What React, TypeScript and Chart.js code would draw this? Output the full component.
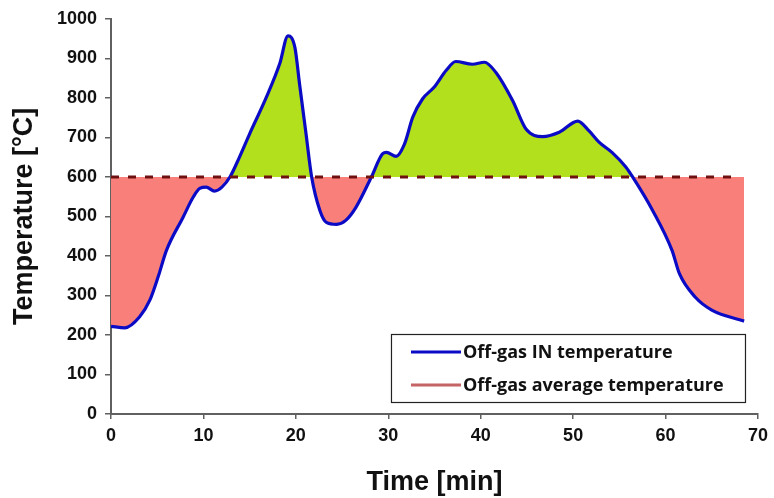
import React, { useEffect, useRef } from "react";
import { Chart, registerables } from "chart.js";

Chart.register(...registerables);

// ---- data ----
const timeMin = [
  0, 1.5, 3.1, 4.2, 5.1, 6.0, 7.8, 8.9, 9.6, 10.3, 11.2, 12.0, 12.9, 13.9, 15.0,
  16.8, 18.25, 19.15, 19.9, 20.4, 21.1, 21.7, 22.6, 23.3, 24.4, 25.4, 26.5, 28.2,
  29.4, 29.8, 30.85, 31.75, 32.65, 33.7, 35.0, 36.25, 37.3, 39.1, 40.4, 41.65,
  43.45, 44.9, 46.7, 48.5, 50.5, 51.7, 52.8, 54.2, 55.7, 56.4, 58.6, 60.7, 61.5,
  63.2, 65.0, 68.5,
];
const tempIn = [
  222, 218, 246, 288, 347, 414, 498, 549, 571, 574, 564, 574, 601, 650, 709,
  801, 886, 957, 927, 835, 709, 601, 515, 485, 480, 490, 523, 601,
  659, 662, 652, 683, 751, 797, 828, 869, 892, 885, 890, 864,
  793, 721, 702, 713, 741, 717, 688, 662, 625, 601, 515, 414, 355,
  296, 263, 235,
];
const avgTime = [0, 67.6];
const avgTemp = [600, 600];

const seriesLabels = ["Off-gas IN temperature", "Off-gas average temperature"];
const xAxisTitle = "Time [min]";
const yAxisTitle = "Temperature [°C]";

const BLUE = "#0b0bc6";
const AVG_DASH = "#6e1010";
const AVG_LEGEND = "#c46464";
const RED_FILL = "#f9807a";
const GREEN_FILL = "#b3e01c";
const AXIS = "#606060";

const boxLegend = {
  id: "boxLegend",
  afterDraw(chart: any) {
    const ctx = chart.ctx as CanvasRenderingContext2D;
    const area = chart.chartArea;
    const w = 354;
    const h = 68;
    const x0 = area.right - 13 - w;
    const y0 = area.bottom - 12 - h;
    ctx.save();
    ctx.fillStyle = "#ffffff";
    ctx.fillRect(x0, y0, w, h);
    ctx.strokeStyle = "#222222";
    ctx.lineWidth = 1.2;
    ctx.strokeRect(x0 + 0.5, y0 + 0.5, w, h);
    const colors = [BLUE, AVG_LEGEND];
    const rows = [y0 + 18, y0 + 51];
    ctx.font = "bold 18px 'Open Sans', 'Noto Sans', sans-serif";
    ctx.textBaseline = "middle";
    ctx.textAlign = "left";
    seriesLabels.forEach((label, i) => {
      ctx.strokeStyle = colors[i];
      ctx.lineWidth = 3;
      ctx.beginPath();
      ctx.moveTo(x0 + 20, rows[i]);
      ctx.lineTo(x0 + 70, rows[i]);
      ctx.stroke();
      ctx.fillStyle = "#111111";
      ctx.fillText(label, x0 + 72, rows[i] + 1);
    });
    ctx.restore();
  },
};

export default function App() {
  const ref = useRef<HTMLCanvasElement | null>(null);

  useEffect(() => {
    if (!ref.current) return;
    const chart = new Chart(ref.current, {
      type: "line",
      data: {
        datasets: [
          {
            label: seriesLabels[0],
            data: timeMin.map((t, i) => ({ x: t, y: tempIn[i] })),
            borderColor: BLUE,
            borderWidth: 3.2,
            pointRadius: 0,
            cubicInterpolationMode: "monotone",
            fill: { target: { value: 600 }, above: GREEN_FILL, below: RED_FILL },
            order: 1,
          },
          {
            label: seriesLabels[1],
            data: avgTime.map((t, i) => ({ x: t, y: avgTemp[i] })),
            borderColor: AVG_DASH,
            borderWidth: 3,
            borderDash: [8, 9],
            pointRadius: 0,
            fill: false,
            order: 0,
          },
        ],
      },
      options: {
        animation: false,
        responsive: false,
        layout: { padding: { top: 18, right: 15, left: 0, bottom: 0 } },
        plugins: {
          legend: { display: false },
          tooltip: { enabled: false },
        },
        scales: {
          x: {
            type: "linear",
            min: 0,
            max: 70,
            afterFit: (s: any) => {
              s.height = 84;
            },
            ticks: {
              stepSize: 10,
              padding: 6,
              color: "#111",
              callback: (v: any) => String(v),
              font: { family: "'Liberation Sans', Arial, sans-serif", size: 18, weight: "bold" },
            },
            grid: { drawOnChartArea: false, color: AXIS, tickLength: 5, lineWidth: 1.5 },
            border: { color: AXIS, width: 2 },
            title: {
              display: true,
              text: xAxisTitle,
              color: "#111",
              font: { family: "'Liberation Sans', Arial, sans-serif", size: 27, weight: "bold", lineHeight: 1 },
              padding: { top: 0, bottom: 2 },
            },
          },
          y: {
            min: 0,
            max: 1000,
            afterFit: (s: any) => {
              s.width = 111;
            },
            ticks: {
              stepSize: 100,
              padding: 8,
              color: "#111",
              callback: (v: any) => String(v),
              font: { family: "'Liberation Sans', Arial, sans-serif", size: 18, weight: "bold" },
            },
            grid: { drawOnChartArea: false, color: AXIS, tickLength: 6, lineWidth: 1.5 },
            border: { color: AXIS, width: 2 },
            title: {
              display: true,
              text: yAxisTitle,
              color: "#111",
              font: { family: "'Liberation Sans', Arial, sans-serif", size: 27, weight: "bold", lineHeight: 1 },
              padding: { top: 11, bottom: 0 },
            },
          },
        },
      },
      plugins: [boxLegend],
    } as any);
    return () => chart.destroy();
  }, []);

  return (
    <div style={{ position: "fixed", left: 0, top: 0, width: 774, height: 498, background: "#fff" }}>
      <canvas ref={ref} width={774} height={498} />
    </div>
  );
}
